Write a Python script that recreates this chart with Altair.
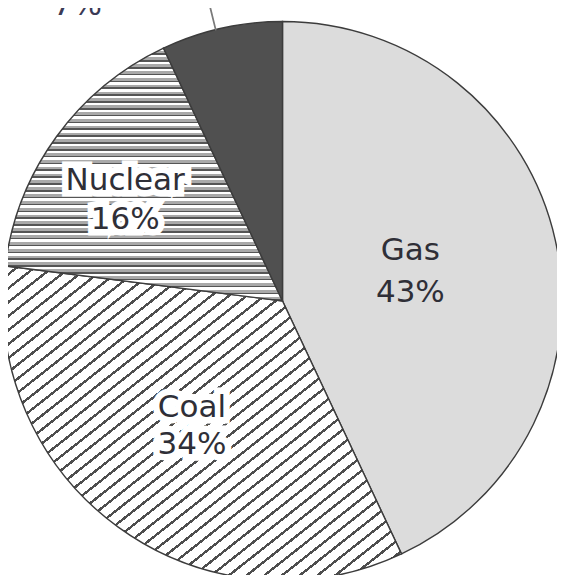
import math
import altair as alt
import pandas as pd

# ---- data ----
categories = ["Gas", "Coal", "Nuclear", "Other"]
shares = [43, 34, 16, 7]
order = [0, 1, 2, 3]
pct_labels = ["43%", "34%", "16%", "7%"]

df = pd.DataFrame({"cat": categories, "value": shares, "idx": order, "pct": pct_labels})

# ---- layout / style ----
W, H = 549, 567
CX, CY = 274.5, 293
R = 279.5
FONT = "DejaVu Sans"
FS = 31
TXT = "#2f2f37"
TS = alt.Scale(domain=[0, 100], range=[0, 2 * math.pi])


def banded(n, bands, x2, y2):
    """Striped linear gradient: bands = [(fraction, color), ...] per period."""
    stops = []
    p = 1.0 / n
    for i in range(n):
        a = i * p
        for frac, col in bands:
            b = a + frac * p
            stops.append(alt.GradientStop(offset=round(a, 6), color=col))
            stops.append(alt.GradientStop(offset=round(min(b, 1.0), 6), color=col))
            a = b
    return alt.LinearGradient(gradient="linear", stops=stops, x1=0, y1=0, x2=x2, y2=y2)


fills = {
    "Gas": "#dcdcdc",
    "Coal": banded(45, [(0.78, "#ffffff"), (0.22, "#4e4e4e")], 1, 1),
    "Nuclear": banded(37, [(0.36, "#ffffff"), (0.40, "#a9a9a9"), (0.24, "#555555")], 0, 1),
    "Other": "#505050",
}

base = (
    alt.Chart(df)
    .transform_window(cum="sum(value)", sort=[alt.SortField("idx")])
    .transform_calculate(start="datum.cum - datum.value", mid="datum.cum - datum.value / 2")
)

layers = []
for c in categories:
    layers.append(
        base.transform_filter(alt.datum.cat == c)
        .mark_arc(radius=R, fill=fills[c], stroke="#3c3c3c", strokeWidth=1.4)
        .encode(
            theta=alt.Theta("start:Q", scale=TS, stack=False),
            theta2=alt.Theta2("cum:Q"),
            x=alt.value(CX),
            y=alt.value(CY),
        )
    )

# leader line for the small slice
leader = (
    base.transform_filter(alt.datum.cat == "Other")
    .transform_calculate(t1="datum.start + datum.value * 0.45", t2="datum.start + datum.value * 0.452")
    .mark_arc(radius=R + 30, radius2=R, fill="#7a7a7a", stroke="#7a7a7a", strokeWidth=1.5)
    .encode(
        theta=alt.Theta("t1:Q", scale=TS, stack=False),
        theta2=alt.Theta2("t2:Q"),
        x=alt.value(CX),
        y=alt.value(CY),
    )
)
layers.append(leader)

# labels: (radius, dx, dy, line height, halo)
label_style = {
    "Gas": (130, 1, 8, 42, False),
    "Coal": (154, 0, 10, 37, True),
    "Nuclear": (187, -6, 18, 39, True),
}

for c, (rad, dx, dy, lh, halo) in label_style.items():
    lb = base.transform_filter(alt.datum.cat == c)
    enc = dict(theta=alt.Theta("mid:Q", scale=TS, stack=False), x=alt.value(CX), y=alt.value(CY))
    lines = [("cat:N", dy - lh / 2), ("pct:N", dy + lh / 2)]
    if halo:
        for field, ddy in lines:
            layers.append(
                lb.mark_text(radius=rad, dx=dx, dy=ddy, font=FONT, fontSize=FS, align="center",
                             baseline="alphabetic", fill="white", stroke="white", strokeWidth=13,
                             strokeJoin="miter")
                .encode(text=field, **enc)
            )
    for field, ddy in lines:
        layers.append(
            lb.mark_text(radius=rad, dx=dx, dy=ddy, font=FONT, fontSize=FS, align="center",
                         baseline="alphabetic", fill=TXT)
            .encode(text=field, **enc)
        )

# outside label for the small slice (mostly above the visible area)
ob = base.transform_filter(alt.datum.cat == "Other").transform_calculate(t1="datum.start + datum.value * 0.45")
oenc = dict(theta=alt.Theta("t1:Q", scale=TS, stack=False), x=alt.value(CX), y=alt.value(CY))
for field, ddy in [("cat:N", 14 - 40), ("pct:N", 14)]:
    layers.append(
        ob.mark_text(radius=R + 30, dx=-131, dy=ddy, font=FONT, fontSize=FS, align="center",
                     baseline="alphabetic", fill="#3a3a55")
        .encode(text=field, **oenc)
    )

chart = (
    alt.layer(*layers)
    .properties(width=W, height=H, autosize=alt.AutoSizeParams(type="none"), padding=0)
    .configure_view(strokeWidth=0)
)

chart.save("out.html", embed_options={"renderer": "svg", "actions": False})
